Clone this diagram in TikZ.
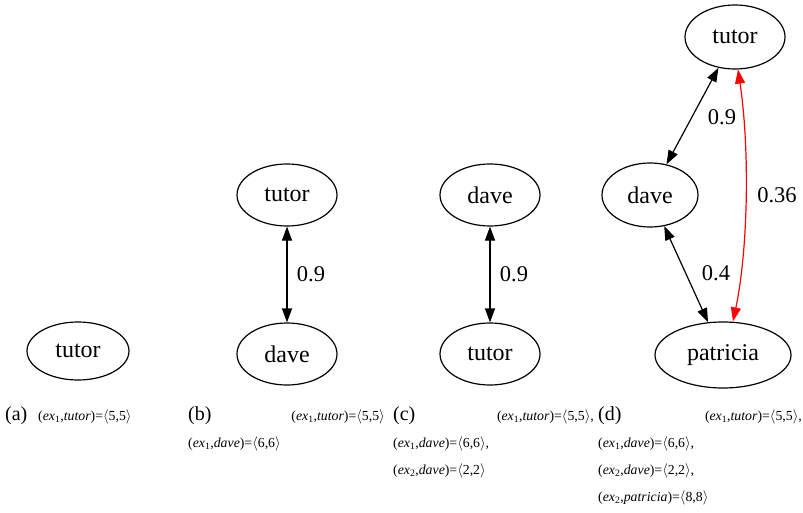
\documentclass[tikz,border=0pt]{standalone}
\usepackage{fontspec}
\setmainfont{Liberation Serif}
\usetikzlibrary{shapes.geometric,arrows.meta}
\tikzset{
  gnode/.style={draw, ellipse, line width=1.2pt, inner sep=0pt, font=\fontsize{24}{26}\selectfont},
  gedge/.style={line width=1.2pt, {Triangle[length=14pt,width=10pt]}-{Triangle[length=14pt,width=10pt]}},
  elabel/.style={font=\fontsize{22.5}{24}\selectfont},
  caplbl/.style={anchor=base west, inner sep=0pt, font=\fontsize{20}{22}\selectfont},
  captxt/.style={inner sep=0pt, font=\fontsize{13.8}{16}\selectfont},
}
\newcommand{\pr}[3]{(\textit{ex}\textsubscript{#1},\textit{#2})=$\langle$#3$\rangle$}
\begin{document}
\begin{tikzpicture}[x=1pt,y=-1pt]
\useasboundingbox (0,0) rectangle (803,513);
% (a)
\node[gnode, minimum width=102pt, minimum height=58pt] (a1) at (78,351) {tutor};
% (b)
\node[gnode, minimum width=100pt, minimum height=62pt] (b1) at (287,195) {tutor};
\node[gnode, minimum width=100pt, minimum height=62pt] (b2) at (287,354) {dave};
\draw[gedge] (b1) -- (b2) node[elabel, midway, right=6pt] {0.9};
% (c)
\node[gnode, minimum width=100pt, minimum height=62pt] (c1) at (490,195) {dave};
\node[gnode, minimum width=100pt, minimum height=62pt] (c2) at (490,354) {tutor};
\draw[gedge] (c1) -- (c2) node[elabel, midway, right=6pt] {0.9};
% (d)
\node[gnode, minimum width=100pt, minimum height=64pt] (d1) at (735,37) {tutor};
\node[gnode, minimum width=96pt, minimum height=64pt] (d2) at (650,195) {dave};
\node[gnode, minimum width=136pt, minimum height=66pt] (d3) at (723,355) {patricia};
\draw[gedge] (d1) -- (d2);
\node[elabel] (l09) at (722,117) {0.9};
\draw[gedge] (d2) -- (d3);
\node[elabel] (l04) at (716,273) {0.4};
\path (d1.south) ++(3,0) coordinate (rs) (d3.north) ++(10,0) coordinate (re);
\draw[gedge, red] (rs) .. controls (750,150) and (748,250) .. (re);
\node[elabel] (l036) at (777,195) {0.36};
% captions
\node[caplbl] (ca) at (5,420) {(a)};
\node[captxt, anchor=base west] (ta) at (38,420) {\pr{1}{tutor}{5,5}};
\node[caplbl] (cb) at (188,420) {(b)};
\node[captxt, anchor=base east] (tb1) at (385,420) {\pr{1}{tutor}{5,5}};
\node[captxt, anchor=base west] (tb2) at (188,447) {\pr{1}{dave}{6,6}};
\node[caplbl] (cc) at (393,420) {(c)};
\node[captxt, anchor=base east] (tc1) at (594,420) {\pr{1}{tutor}{5,5},};
\node[captxt, anchor=base west] (tc2) at (393,447) {\pr{1}{dave}{6,6},};
\node[captxt, anchor=base west] (tc3) at (393,474) {\pr{2}{dave}{2,2}};
\node[caplbl] (cd) at (598,420) {(d)};
\node[captxt, anchor=base east] (td1) at (802,420) {\pr{1}{tutor}{5,5},};
\node[captxt, anchor=base west] (td2) at (598,447) {\pr{1}{dave}{6,6},};
\node[captxt, anchor=base west] (td3) at (598,474) {\pr{2}{dave}{2,2},};
\node[captxt, anchor=base west] (td4) at (598,501) {\pr{2}{patricia}{8,8}};
\end{tikzpicture}
\end{document}
